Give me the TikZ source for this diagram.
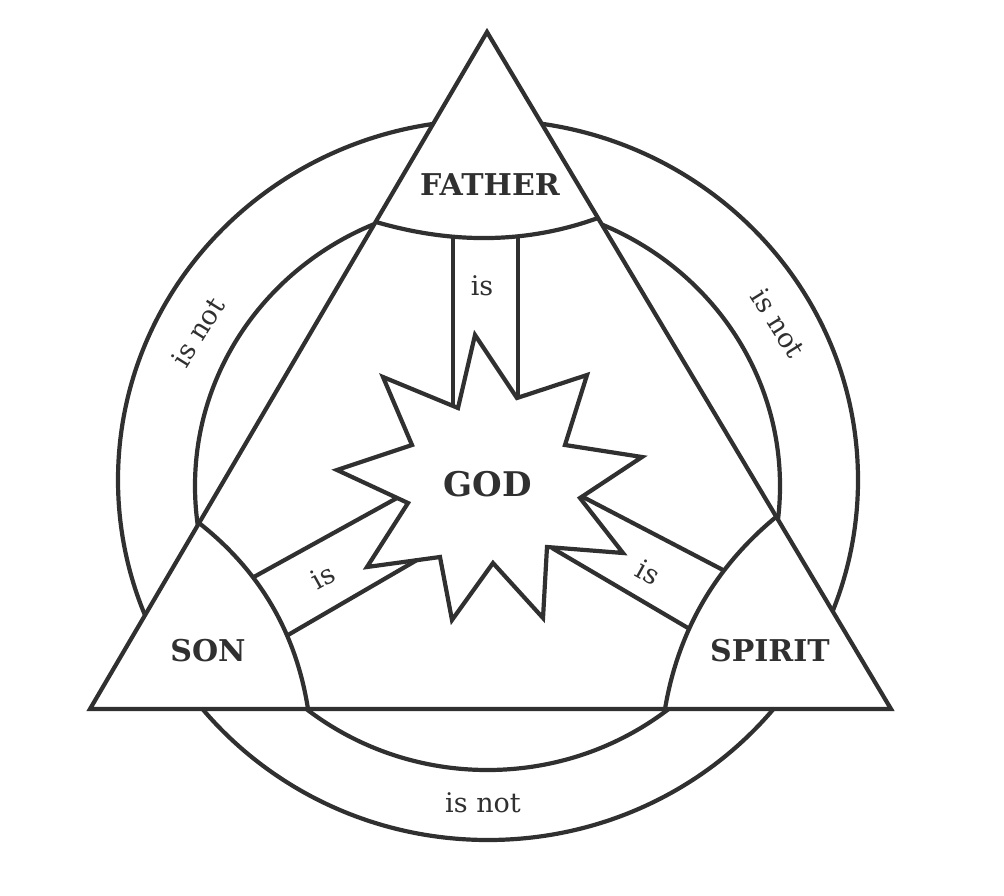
\documentclass[tikz,border=0pt]{standalone}
\usepackage{fontspec}
\setmainfont{DejaVu Serif}
\definecolor{ink}{HTML}{303030}
\tikzset{
  ln/.style={draw=ink, line width=4.2pt},
  boldlbl/.style={text=ink, font=\fontsize{30}{32}\selectfont\bfseries, inner sep=0pt},
  smalllbl/.style={text=ink, font=\fontsize{27}{29}\selectfont, inner sep=0pt},
}
\begin{document}
\begin{tikzpicture}[x=1pt,y=-1pt]
\useasboundingbox (0,0) rectangle (1004,896);
% triangle corners
\coordinate (T) at (487,32);
\coordinate (L) at (90,709);
\coordinate (R) at (891,709);
% rings, only outside the triangle
\begin{scope}[even odd rule]
  \clip (-10,-10) rectangle (1014,906) (T) -- (L) -- (R) -- cycle;
  \draw[ln] (488,480) ellipse [x radius=370pt, y radius=360pt];
  \draw[ln] (487.5,486) ellipse [x radius=292.5pt, y radius=284pt];
\end{scope}
% corner arcs
\coordinate (fa1) at (376,222);
\coordinate (fa2) at (598,218);
\coordinate (sa1) at (199,523);
\coordinate (sa2) at (308,709);
\coordinate (pa1) at (776,517);
\coordinate (pa2) at (665,709);
\draw[ln] (fa1) .. controls (454,244.7) and (528,243.3) .. (fa2);
\draw[ln] (sa1) .. controls (259.3,570.3) and (296,632.3) .. (sa2);
\draw[ln] (pa1) .. controls (715.4,566.9) and (678.1,630.9) .. (pa2);
% triangle
\draw[ln, line join=miter] (T) -- (L) -- (R) -- cycle;
% star
\draw[ln, line join=miter] (475,335) -- (517,398) -- (587,375) -- (565,445) -- (642,457)
  -- (580,498) -- (623,553) -- (547,547) -- (543,618) -- (493,563) -- (452,620)
  -- (440,557) -- (367,567) -- (408,503) -- (337,470) -- (412,445) -- (383,377)
  -- (458,408) -- cycle;
% bars
\coordinate (fb1) at (453,237); \coordinate (fb2) at (453,406);
\coordinate (fb3) at (518,236); \coordinate (fb4) at (518,398);
\coordinate (sb1) at (252,578); \coordinate (sb2) at (397,498);
\coordinate (sb3) at (288,635); \coordinate (sb4) at (417,560);
\coordinate (pb1) at (723,570); \coordinate (pb2) at (583,497);
\coordinate (pb3) at (688,628); \coordinate (pb4) at (552,548);
\draw[ln] (fb1) -- (fb2);
\draw[ln] (fb3) -- (fb4);
\draw[ln] (sb1) -- (sb2);
\draw[ln] (sb3) -- (sb4);
\draw[ln] (pb1) -- (pb2);
\draw[ln] (pb3) -- (pb4);
% labels
\node[boldlbl] (father) at (490,185) {FATHER};
\node[boldlbl, font=\fontsize{34}{36}\selectfont\bfseries] (god) at (488,484) {GOD};
\node[boldlbl] (son) at (208,651) {SON};
\node[boldlbl] (spirit) at (770,650.5) {SPIRIT};
\node[smalllbl] (is1) at (482,286) {is};
\node[smalllbl, rotate=29] (is2) at (323,577) {is};
\node[smalllbl, rotate=-29] (is3) at (648,572) {is};
\node[smalllbl, rotate=58] (isnot1) at (198,332) {is not};
\node[smalllbl, rotate=-58] (isnot2) at (778,323) {is not};
\node[smalllbl] (isnot3) at (483,803) {is not};
\end{tikzpicture}
\end{document}
